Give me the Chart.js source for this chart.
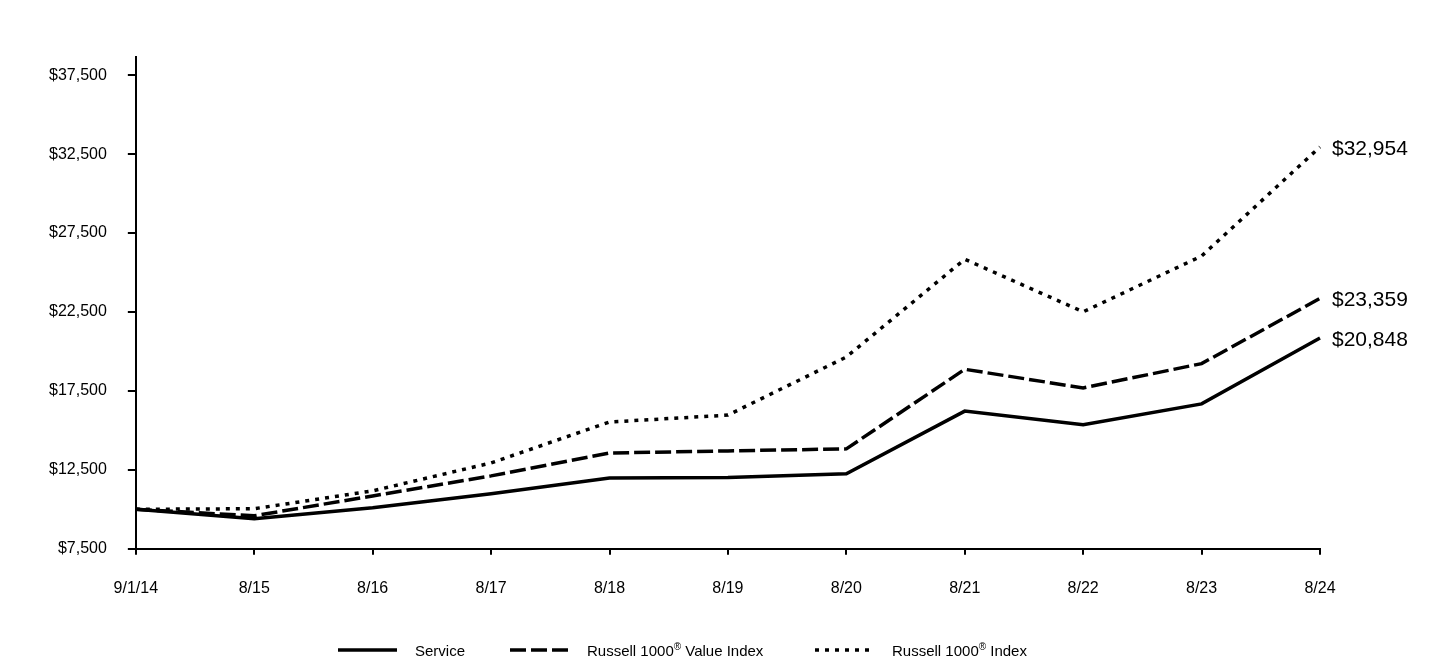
<!DOCTYPE html>
<html>
<head>
<meta charset="utf-8">
<script src="https://cdn.jsdelivr.net/npm/chart.js@4.4.1/dist/chart.umd.min.js"></script>
<style>
  body { margin: 0; background: #fff; }
  #wrap { position: relative; width: 1440px; height: 660px; }
  #legend { position: absolute; left: 0; top: 640px; width: 1440px; height: 20px;
    font-family: "Liberation Sans", Arial, sans-serif; font-size: 15px; color: #000; }
  .item { position: absolute; top: 0; display: flex; align-items: center; height: 20px; white-space: nowrap; }
  .item svg { margin-right: 18px; }
  sup { font-size: 10px; line-height: 0; }
</style>
</head>
<body>
<div id="wrap">
  <canvas id="growthChart" width="1440" height="660"></canvas>
  <div id="legend"></div>
</div>
<script>
var periods = ['9/1/14', '8/15', '8/16', '8/17', '8/18', '8/19', '8/20', '8/21', '8/22', '8/23', '8/24'];

var serviceValues = [10000, 9400, 10100, 10980, 11990, 12020, 12250, 16220, 15360, 16680, 20848];
var valueIndexValues = [10000, 9590, 10850, 12120, 13570, 13700, 13830, 18870, 17690, 19230, 23359];
var russellValues = [10000, 10040, 11170, 12940, 15530, 15970, 19650, 25840, 22510, 26040, 32954];

var seriesNames = ['Service', 'Russell 1000® Value Index', 'Russell 1000® Index'];
var legendHtml = ['Service', 'Russell 1000<sup>®</sup> Value Index', 'Russell 1000<sup>®</sup> Index'];
var dashes = [[], [16, 5], [4, 6]];
var legendLeft = [338, 510, 815];

var yTicks = [7500, 12500, 17500, 22500, 27500, 32500, 37500];

function money(v) {
  return '$' + Math.round(v).toLocaleString('en-US');
}

// labels at the end of each line
var endLabels = {
  id: 'endLabels',
  afterDatasetsDraw: function(chart) {
    var ctx = chart.ctx;
    ctx.save();
    ctx.font = '21px "Liberation Sans", Arial, sans-serif';
    ctx.fillStyle = '#000';
    ctx.textAlign = 'left';
    ctx.textBaseline = 'middle';
    chart.data.datasets.forEach(function(ds, i) {
      var meta = chart.getDatasetMeta(i);
      var pt = meta.data[meta.data.length - 1];
      ctx.fillText(money(ds.data[ds.data.length - 1]), pt.x + 12, pt.y + 2);
    });
    ctx.restore();
  }
};

var tickFont = { family: '"Liberation Sans", Arial, sans-serif', size: 16 };

var ctx = document.getElementById('growthChart').getContext('2d');
var growthChart = new Chart(ctx, {
  type: 'line',
  data: {
    labels: periods,
    datasets: [serviceValues, valueIndexValues, russellValues].map(function(vals, i) {
      return {
        label: seriesNames[i],
        data: vals,
        borderColor: '#000',
        backgroundColor: '#000',
        borderWidth: 3.5,
        borderDash: dashes[i],
        borderCapStyle: 'butt',
        pointRadius: 0,
        tension: 0,
        fill: false
      };
    })
  },
  options: {
    responsive: false,
    animation: false,
    layout: { padding: { top: 57, left: 28, right: 120, bottom: 38 } },
    plugins: { legend: { display: false }, tooltip: { enabled: false } },
    scales: {
      x: {
        grid: { drawOnChartArea: false, drawTicks: true, tickLength: 6, color: '#000', lineWidth: 2 },
        border: { color: '#000', width: 2 },
        ticks: { color: '#000', font: tickFont, padding: 24, maxRotation: 0, autoSkip: false }
      },
      y: {
        min: 7500,
        max: 38650,
        afterBuildTicks: function(scale) {
          scale.ticks = yTicks.map(function(v) { return { value: v }; });
        },
        grid: { drawOnChartArea: false, drawTicks: true, tickLength: 8, color: '#000', lineWidth: 2 },
        border: { color: '#000', width: 2 },
        ticks: { color: '#000', font: tickFont, padding: 21, callback: function(v) { return money(v); } }
      }
    }
  },
  plugins: [endLabels]
});

// html legend (for the superscript ®)
var legend = document.getElementById('legend');
seriesNames.forEach(function(name, i) {
  var item = document.createElement('div');
  item.className = 'item';
  item.style.left = legendLeft[i] + 'px';
  item.innerHTML = '<svg width="59" height="6"><line x1="0" y1="3" x2="59" y2="3" stroke="#000" stroke-width="3.5" stroke-dasharray="' +
    (dashes[i].length ? dashes[i].join(',') : 'none') + '"/></svg><span>' + legendHtml[i] + '</span>';
  legend.appendChild(item);
});
</script>
</body>
</html>
